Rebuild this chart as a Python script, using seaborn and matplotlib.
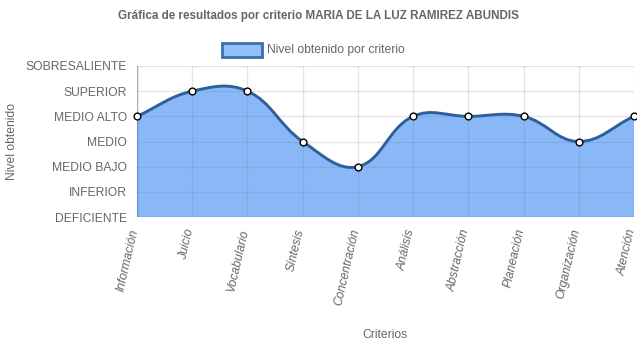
import numpy as np
import pandas as pd
import matplotlib
matplotlib.use("Agg")
import matplotlib.pyplot as plt
import seaborn as sns
from matplotlib.path import Path
from matplotlib.patches import PathPatch, Rectangle

# Data
criterios = ["Información", "Juicio", "Vocabulario", "Síntesis", "Concentración",
             "Análisis", "Abstracción", "Planeación", "Organización", "Atención"]
niveles = ["DEFICIENTE", "INFERIOR", "MEDIO BAJO", "MEDIO", "MEDIO ALTO",
           "SUPERIOR", "SOBRESALIENTE"]
valores = [4, 5, 5, 3, 2, 4, 4, 4, 3, 4]

titulo = "Gráfica de resultados por criterio MARIA DE LA LUZ RAMIREZ ABUNDIS"
etiqueta_serie = "Nivel obtenido por criterio"

df = pd.DataFrame({"idx": np.arange(len(criterios)), "criterio": criterios, "valor": valores})

sns.set_style("white")
plt.rcParams["font.family"] = ["Liberation Sans", "DejaVu Sans"]

W, H, DPI = 637, 348, 100
PT = 72 / DPI  # points per pixel
fig = plt.figure(figsize=(W / DPI, H / DPI), dpi=DPI)
x0, x1, y0, y1 = 137, 634, 66, 217
ax = fig.add_axes([x0 / W, 1 - y1 / H, (x1 - x0) / W, (y1 - y0) / H])

n = len(criterios)
ax.set_xlim(0, n - 1)
ax.set_ylim(0, len(niveles) - 1)

# grid (drawn below the data)
grid_c = (0, 0, 0, 0.1)
for i in range(n):
    ax.axvline(i, color=grid_c, lw=1, zorder=0)
for j in range(len(niveles)):
    ax.axhline(j, color=grid_c, lw=1, zorder=0)
for s in ax.spines.values():
    s.set_visible(False)
ax.axvline(0, color=(0, 0, 0, 0.25), lw=1, zorder=0)
ax.axhline(0, color=(0, 0, 0, 0.25), lw=1, zorder=0)

# smoothed line, tension 0.4 (spline computed in pixel space)
sx = (x1 - x0) / (n - 1)
sy = (y1 - y0) / (len(niveles) - 1)
pts = np.array([[i * sx, v * sy] for i, v in enumerate(valores)], dtype=float)
t = 0.4
prev_cp, next_cp = [], []
for i in range(n):
    p = pts[max(i - 1, 0)]
    c = pts[i]
    q = pts[min(i + 1, n - 1)]
    d01 = np.hypot(*(c - p))
    d12 = np.hypot(*(q - c))
    tot = d01 + d12
    s01 = d01 / tot if tot else 0
    s12 = d12 / tot if tot else 0
    fa, fb = t * s01, t * s12
    prev_cp.append(c - fa * (q - p))
    next_cp.append(c + fb * (q - p))

def to_data(p):
    x = np.clip(p[0] / sx, 0, n - 1)
    y = np.clip(p[1] / sy, 0, len(niveles) - 1)
    return (x, y)

verts = [to_data(pts[0])]
codes = [Path.MOVETO]
for i in range(n - 1):
    verts += [to_data(next_cp[i]), to_data(prev_cp[i + 1]), to_data(pts[i + 1])]
    codes += [Path.CURVE4] * 3

fill_verts = verts + [(n - 1, 0), (0, 0), (0, 0)]
fill_codes = codes + [Path.LINETO, Path.LINETO, Path.CLOSEPOLY]
ax.add_patch(PathPatch(Path(fill_verts, fill_codes), facecolor="#1f78ee", alpha=0.52,
                       edgecolor="none", zorder=1))
ax.add_patch(PathPatch(Path(verts, codes), facecolor="none", edgecolor="#2f5f98",
                       lw=2.1, zorder=2, capstyle="round", joinstyle="round"))

sns.scatterplot(data=df, x="idx", y="valor", ax=ax, s=24, color="white",
                edgecolor="black", linewidth=1.0, zorder=3, clip_on=False, legend=False)

txt_c = "#666666"
fs = 8.7
ax.set_xticks(range(n))
ax.set_xticklabels([])
ax.set_yticks(range(len(niveles)))
ax.set_yticklabels(niveles, fontsize=fs, color=txt_c)
ax.tick_params(axis="both", length=8 * PT, width=1, color=(0, 0, 0, 0.1))
ax.tick_params(axis="y", pad=1.5)
ax.set_xlabel("")
ax.set_ylabel("")

# slanted category labels under each tick
for i, lab in enumerate(criterios):
    ax.annotate(lab, xy=(i, 0), xycoords="data", xytext=(-2 * PT, -12 * PT),
                textcoords="offset points", rotation=77, ha="right", va="center",
                rotation_mode="anchor", style="italic", fontsize=fs, color=txt_c,
                annotation_clip=False)

fig.text(12 / W, 1 - 141 / H, "Nivel obtenido", rotation=90, ha="center", va="center",
         fontsize=fs, color=txt_c)
fig.text(385 / W, 1 - 335 / H, "Criterios", ha="center", va="center", fontsize=fs, color=txt_c)
fig.text(318 / W, 1 - 16 / H, titulo, ha="center", va="center", fontsize=8.4,
         fontweight="bold", color=txt_c)

# legend
fig.patches.append(Rectangle((222 / W, 1 - 57 / H), 40 / W, 14 / H, transform=fig.transFigure,
                             facecolor="#94c0f8", edgecolor="#3a6fb0", lw=2))
fig.text(267 / W, 1 - 49.5 / H, etiqueta_serie, ha="left", va="center", fontsize=fs, color=txt_c)

fig.savefig("out.png", dpi=DPI)
